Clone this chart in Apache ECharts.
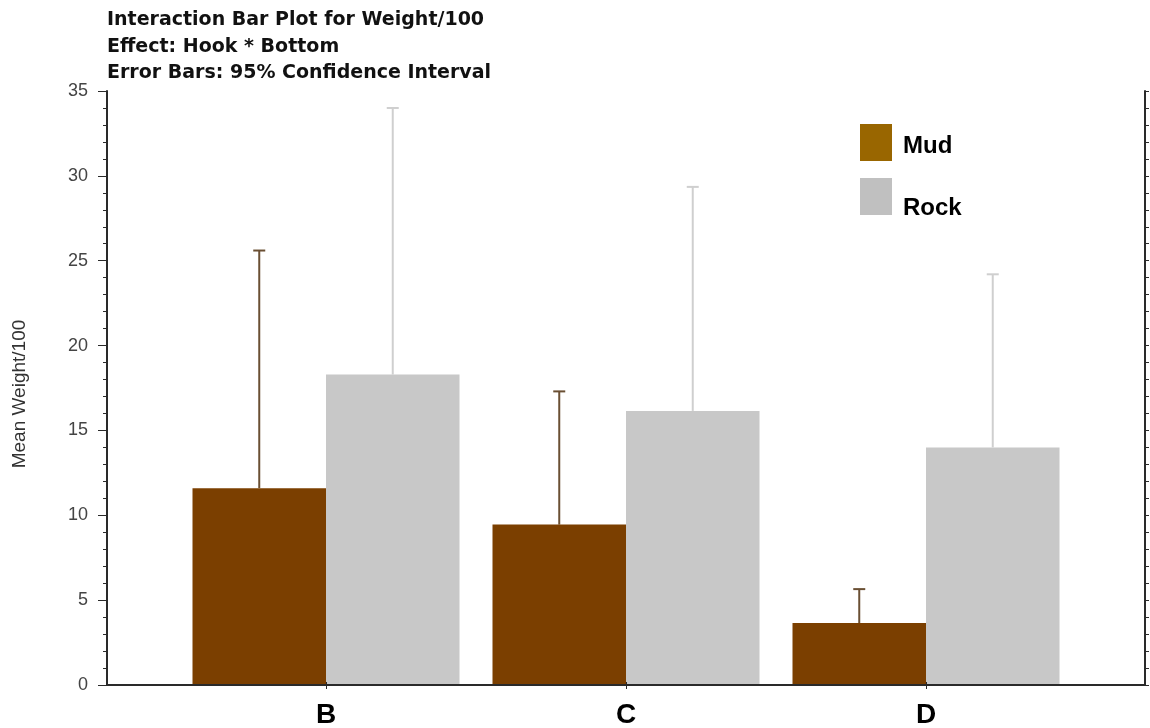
<!DOCTYPE html>
<html>
<head>
<meta charset="utf-8">
<script src="https://cdn.jsdelivr.net/npm/echarts@6/dist/echarts.min.js"></script>
<style>
html,body{margin:0;padding:0;background:#fff;}
#chart{width:1150px;height:728px;}
</style>
</head>
<body>
<div id="chart"></div>
<script>
// ---- data ----
var categories = ['B', 'C', 'D'];
var categoryPos = [1, 2, 3];
var mudMean = [11.6, 9.45, 3.65];
var mudUpper = [25.6, 17.3, 5.65];
var rockMean = [18.3, 16.15, 14.0];
var rockUpper = [34.0, 29.35, 24.2];
var seriesNames = ['Mud', 'Rock'];
var yTicks = [0, 5, 10, 15, 20, 25, 30, 35];

// ---- build ----
var BAR_W = 0.445;
function rows(means, uppers) {
  return categoryPos.map(function (p, i) { return [p, means[i], uppers[i]]; });
}
function makeRender(side, fill, errColor) {
  return function (params, api) {
    var x = api.value(0), m = api.value(1), u = api.value(2);
    var x0 = side < 0 ? x - BAR_W : x;
    var x1 = side < 0 ? x : x + BAR_W;
    var xm = (x0 + x1) / 2;
    var pTL = api.coord([x0, m]);
    var pBR = api.coord([x1, 0]);
    var pMid = api.coord([xm, m]);
    var pTop = api.coord([xm, u]);
    return {
      type: 'group',
      children: [
        { type: 'line', shape: { x1: pMid[0], y1: pMid[1], x2: pTop[0], y2: pTop[1] },
          style: { stroke: errColor, lineWidth: 2 } },
        { type: 'line', shape: { x1: pTop[0] - 6, y1: pTop[1], x2: pTop[0] + 6, y2: pTop[1] },
          style: { stroke: errColor, lineWidth: 2 } },
        { type: 'rect', shape: { x: pTL[0], y: pTL[1], width: pBR[0] - pTL[0], height: pBR[1] - pTL[1] },
          style: { fill: fill } }
      ]
    };
  };
}

var chart = echarts.init(document.getElementById('chart'), null, { renderer: 'canvas' });
var axisLineStyle = { color: '#2a2a2a', width: 2 };
var tickStyle = { color: '#2a2a2a', width: 1 };
var FONT = 'Liberation Sans, Arial, sans-serif';
function legendFor(name, color, top, shift) {
  return {
    orient: 'vertical', left: 860, top: top, padding: 0,
    itemWidth: 32, itemHeight: 37, icon: 'rect',
    data: [{ name: name, itemStyle: { color: color } }],
    formatter: '{a|{name}}',
    textStyle: {
      fontFamily: FONT, fontWeight: 'bold', fontSize: 24, color: '#000',
      rich: { a: { fontFamily: FONT, fontWeight: 'bold', fontSize: 24, color: '#000', padding: [shift, 0, 0, 6] } }
    }
  };
}
var option = {
  backgroundColor: '#ffffff',
  animation: false,
  title: {
    text: 'Interaction Bar Plot for Weight/100\nEffect: Hook * Bottom\nError Bars: 95% Confidence Interval',
    left: 107, top: 7, padding: 0,
    textStyle: { fontFamily: 'DejaVu Sans, Verdana, sans-serif', fontWeight: 'bold', fontSize: 19, lineHeight: 26.5, color: '#111' }
  },
  legend: [
    legendFor(seriesNames[0], '#996600', 124, 7),
    legendFor(seriesNames[1], '#c0c0c0', 178, 23)
  ],
  grid: { left: 107, right: 5, top: 91, bottom: 43, outerBoundsMode: 'none', containLabel: false },
  xAxis: [
    {
      type: 'value', min: 0.27, max: 3.73, position: 'bottom', z: 5,
      splitLine: { show: false },
      axisLine: { show: true, lineStyle: axisLineStyle },
      axisTick: { show: true, length: 4, customValues: categoryPos, lineStyle: tickStyle },
      axisLabel: {
        margin: 16, customValues: categoryPos,
        fontFamily: FONT, fontWeight: 'bold', fontSize: 28, color: '#000',
        formatter: function (v) {
          var i = categoryPos.indexOf(Math.round(v * 1000) / 1000);
          return i >= 0 ? categories[i] : '';
        }
      }
    },
    {
      type: 'value', min: 0.27, max: 3.73, position: 'top', z: 5,
      splitLine: { show: false },
      axisLine: { show: true, lineStyle: axisLineStyle },
      axisTick: { show: true, length: 3, customValues: categoryPos, lineStyle: tickStyle },
      axisLabel: { show: false }
    }
  ],
  yAxis: [
    {
      type: 'value', min: 0, max: 35, interval: 5, position: 'left', z: 5,
      name: 'Mean Weight/100', nameLocation: 'middle', nameRotate: 90, nameGap: 78,
      nameTextStyle: { fontFamily: FONT, fontSize: 19, color: '#333', padding: [0, 12, 0, 0] },
      splitLine: { show: false },
      axisLine: { show: true, lineStyle: axisLineStyle },
      axisTick: { show: true, length: 9, lineStyle: tickStyle },
      minorTick: { show: true, splitNumber: 5, length: 4, lineStyle: tickStyle },
      axisLabel: {
        margin: 19, fontFamily: FONT, fontSize: 18, color: '#444',
        formatter: function (v) { return yTicks.indexOf(v) >= 0 ? String(v) : ''; }
      }
    },
    {
      type: 'value', min: 0, max: 35, interval: 1, position: 'right', z: 5,
      splitLine: { show: false },
      axisLine: { show: true, lineStyle: axisLineStyle },
      axisTick: { show: true, length: 4, lineStyle: tickStyle },
      axisLabel: { show: false }
    }
  ],
  series: [
    {
      name: seriesNames[0], type: 'custom', xAxisIndex: 0, yAxisIndex: 0,
      itemStyle: { color: '#7b3f00' },
      renderItem: makeRender(-1, '#7b3f00', '#6a4f33'),
      encode: { x: 0, y: [1, 2] },
      data: rows(mudMean, mudUpper)
    },
    {
      name: seriesNames[1], type: 'custom', xAxisIndex: 0, yAxisIndex: 0,
      itemStyle: { color: '#c8c8c8' },
      renderItem: makeRender(1, '#c8c8c8', '#cfcfcf'),
      encode: { x: 0, y: [1, 2] },
      data: rows(rockMean, rockUpper)
    }
  ]
};
chart.setOption(option);
</script>
</body>
</html>
